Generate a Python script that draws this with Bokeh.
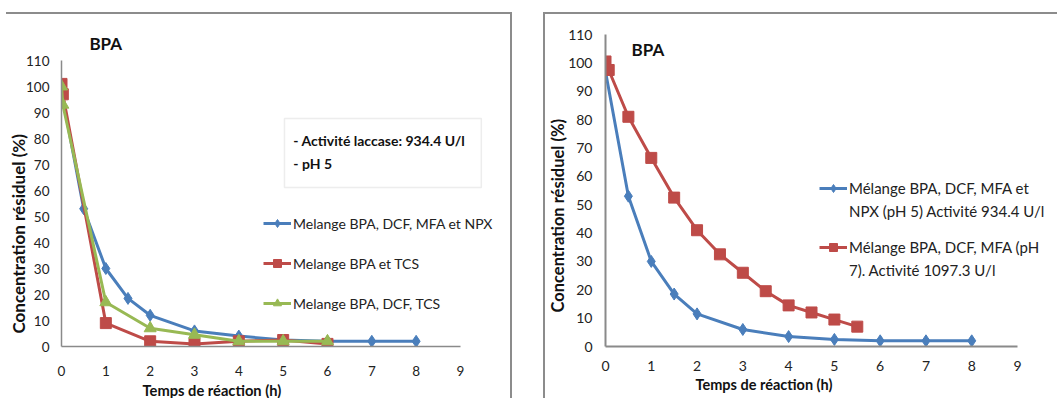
from bokeh.plotting import figure
from bokeh.layouts import row
from bokeh.models import (Legend, LegendItem, Label, BoxAnnotation, FixedTicker, Range1d,
                          Title)
from bokeh.embed import file_html
from bokeh.resources import INLINE

# ---------------- data ----------------
hour_ticks = [0, 1, 2, 3, 4, 5, 6, 7, 8, 9]
conc_ticks = [0, 10, 20, 30, 40, 50, 60, 70, 80, 90, 100, 110]

# left chart (pH 5, 934.4 U/l)
l_blue_x = [0, 0.5, 1, 1.5, 2, 3, 4, 5, 6, 7, 8]
l_blue_y = [98, 53, 30, 18.5, 12, 6, 4, 2.5, 2, 2, 2]
l_red_x = [0, 0.03, 1, 2, 3, 4, 5, 6]
l_red_y = [101, 97, 9, 2, 1, 2, 2.5, 1]
l_green_x = [0, 0.03, 1, 2, 3, 4, 5, 6]
l_green_y = [100, 93, 17, 7, 4.5, 2, 2, 2]
l_names = ["Melange BPA, DCF, MFA et NPX", "Melange BPA et TCS", "Melange BPA, DCF, TCS"]

# right chart
r_blue_x = [0, 0.5, 1, 1.5, 2, 3, 4, 5, 6, 7, 8]
r_blue_y = [97, 53, 30, 18.5, 11.5, 6, 3.5, 2.5, 2, 2, 2]
r_red_x = [0, 0.07, 0.5, 1, 1.5, 2, 2.5, 3, 3.5, 4, 4.5, 5, 5.5]
r_red_y = [100.5, 97.5, 81, 66.5, 52.5, 41, 32.5, 26, 19.5, 14.5, 12, 9.5, 7]
r_names_1 = ["Mélange BPA, DCF, MFA et", "NPX (pH 5) Activité 934.4 U/l"]
r_names_2 = ["Mélange BPA, DCF, MFA (pH", "7). Activité 1097.3 U/l"]

x_title = "Temps de réaction (h)"
y_title = "Concentration résiduel (%)"

BLUE = "#4A7EBB"
RED = "#BE4B48"
GREEN = "#98B954"
FONT = "Lato"
AXIS_GRAY = "#8a8a8a"
BORDER = "#8c8c8c"


def style(p, tick_size, x_stand, y_stand, axis_w):
    p.grid.visible = False
    p.outline_line_color = None
    p.background_fill_color = None
    p.border_fill_color = None
    p.xaxis.ticker = FixedTicker(ticks=hour_ticks)
    p.yaxis.ticker = FixedTicker(ticks=conc_ticks)
    p.xaxis.bounds = (0, 9)
    p.yaxis.bounds = (0, 110)
    for ax in (p.xaxis[0], p.yaxis[0]):
        ax.axis_line_color = AXIS_GRAY
        ax.axis_line_width = axis_w
        ax.major_tick_line_color = None
        ax.minor_tick_line_color = None
        ax.major_tick_out = 0
        ax.major_tick_in = 0
        ax.minor_tick_out = 0
        ax.major_label_text_font = FONT
        ax.major_label_text_font_size = tick_size
        ax.major_label_text_color = "#222222"
    p.xaxis.major_label_standoff = x_stand
    p.yaxis.major_label_standoff = y_stand


def titles(p, x_off, x_size, y_off, y_size, y_stand):
    p.add_layout(Title(text=x_title, align="left", offset=x_off, standoff=0,
                       text_font=FONT, text_font_style="bold", text_font_size=x_size,
                       text_color="#111111"), "below")
    p.add_layout(Title(text=y_title, align="left", offset=y_off, standoff=y_stand,
                       text_font=FONT, text_font_style="bold", text_font_size=y_size,
                       text_color="#111111"), "left")


def css_border(vx, hx0, hw):
    return {
        "background-color": "white",
        "background-image": f"linear-gradient({BORDER},{BORDER}), linear-gradient({BORDER},{BORDER})",
        "background-size": f"2px 400px, {hw}px 2px",
        "background-position": f"{vx}px 12px, {hx0}px 12px",
        "background-repeat": "no-repeat",
    }


def legend(items, loc, spacing, size):
    return Legend(items=items, location=loc, padding=0, margin=0, spacing=spacing,
                  glyph_width=28, glyph_height=20, label_height=20, label_standoff=2,
                  border_line_color=None, background_fill_alpha=0,
                  label_text_font=FONT, label_text_font_size=size, label_text_color="#222222")


# ---------------- left figure ----------------
L_PX_X = 44.33
L_PX_Y = 2.6
p1 = figure(frame_width=439, frame_height=336,
            min_border_left=61, min_border_right=27, min_border_top=10, min_border_bottom=52,
            x_range=Range1d(0, 439 / L_PX_X), y_range=Range1d(0, 336 / L_PX_Y),
            output_backend="svg", toolbar_location=None)
style(p1, "13.5px", 19, 12, 1.5)
p1.styles = css_border(510, 6, 506)

lb1 = p1.line(l_blue_x, l_blue_y, line_color=BLUE, line_width=3)
sb1 = p1.scatter(l_blue_x, l_blue_y, marker="diamond", size=12, fill_color=BLUE, line_color=BLUE)
lr1 = p1.line(l_red_x, l_red_y, line_color=RED, line_width=3)
sr1 = p1.scatter(l_red_x, l_red_y, marker="square", size=11, fill_color=RED, line_color=RED)
lg1 = p1.line(l_green_x, l_green_y, line_color=GREEN, line_width=3)
sg1 = p1.scatter(l_green_x, l_green_y, marker="triangle", size=12, fill_color=GREEN, line_color=GREEN)

p1.add_layout(legend([LegendItem(label=l_names[0], renderers=[lb1, sb1]),
                      LegendItem(label=l_names[1], renderers=[lr1, sr1]),
                      LegendItem(label=l_names[2], renderers=[lg1, sg1])],
                     (202, 33), 20, "14px"))

p1.add_layout(Label(x=0.63, y=116.5, text="BPA", text_font=FONT, text_font_style="bold",
                    text_font_size="17px", text_baseline="middle", text_color="#111111"))
p1.add_layout(BoxAnnotation(left=5.03, right=9.47, top=87.7, bottom=61.15,
                            fill_color="white", fill_alpha=1,
                            line_color="#c4c4c4", line_width=1.5))
p1.add_layout(Label(x=5.23, y=79.2, text="- Activité laccase: 934.4  U/l", text_font=FONT,
                    text_font_style="bold", text_font_size="14px", text_baseline="middle",
                    text_color="#111111"))
p1.add_layout(Label(x=5.23, y=70.4, text="- pH 5", text_font=FONT,
                    text_font_style="bold", text_font_size="14px", text_baseline="middle",
                    text_color="#111111"))
titles(p1, 81, "14.7px", 13, "17px", -11)

# ---------------- right figure ----------------
R_PX_X = 45.78
R_PX_Y = 2.836
p2 = figure(frame_width=447, frame_height=336,
            min_border_left=78, min_border_right=5, min_border_top=10, min_border_bottom=52,
            x_range=Range1d(0, 447 / R_PX_X), y_range=Range1d(0, 336 / R_PX_Y),
            output_backend="svg", toolbar_location=None)
style(p2, "14px", 14, 13, 2)
p2.styles = css_border(16, 16, 520)

lb2 = p2.line(r_blue_x, r_blue_y, line_color=BLUE, line_width=3)
sb2 = p2.scatter(r_blue_x, r_blue_y, marker="diamond", size=12, fill_color=BLUE, line_color=BLUE)
lr2 = p2.line(r_red_x, r_red_y, line_color=RED, line_width=3)
sr2 = p2.scatter(r_red_x, r_red_y, marker="square", size=11, fill_color=RED, line_color=RED)

p2.add_layout(legend([LegendItem(label=r_names_1[0], renderers=[lb2, sb2]),
                      LegendItem(label=r_names_1[1], renderers=[])],
                     (214, 125), 3, "15px"))
p2.add_layout(legend([LegendItem(label=r_names_2[0], renderers=[lr2, sr2]),
                      LegendItem(label=r_names_2[1], renderers=[])],
                     (214, 66), 3, "15px"))

p2.add_layout(Label(x=0.57, y=104.7, text="BPA", text_font=FONT, text_font_style="bold",
                    text_font_size="17px", text_baseline="middle", text_color="#111111"))
titles(p2, 90, "14.5px", 34, "16.5px", -5)

layout = row(p1, p2, spacing=0)
open("out.html", "w").write(file_html(layout, INLINE))
